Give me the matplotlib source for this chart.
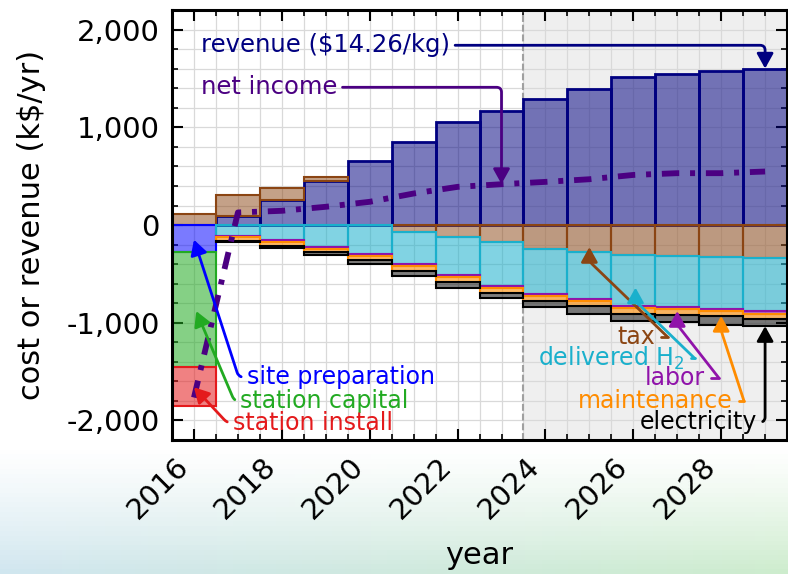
import numpy as np
import matplotlib.pyplot as plt
from matplotlib.colors import to_rgba
from matplotlib.ticker import MultipleLocator, FuncFormatter

plt.rcParams['lines.scale_dashes'] = False

years = np.arange(2016, 2030)
revenue = [0, 89, 255, 452, 656, 850, 1058, 1166, 1293, 1395, 1513, 1541, 1574, 1602]
tax = [112, 217, 129, 35, 0, -75, -124, -177, -245, -279, -306, -320, -330, -340]
site_preparation = [-275, 0, 0, 0, 0, 0, 0, 0, 0, 0, 0, 0, 0, 0]
station_capital = [-1175, 0, 0, 0, 0, 0, 0, 0, 0, 0, 0, 0, 0, 0]
station_install = [-400, 0, 0, 0, 0, 0, 0, 0, 0, 0, 0, 0, 0, 0]
delivered_h2 = [0, -109, -153, -228, -295, -323, -386, -442, -459, -476, -520, -520, -527, -544]
labor = [0, -17, -17, -17, -20, -24, -24, -25, -25, -25, -24, -24, -24, -24]
maintenance = [0, -34, -41, -34, -45, -50, -51, -50, -50, -50, -58, -54, -51, -51]
electricity = [0, -17, -27, -27, -40, -52, -58, -55, -58, -78, -77, -75, -88, -75]
net_income = [-1765, 129, 146, 187, 238, 323, 391, 418, 442, 469, 513, 531, 531, 548]

fig = plt.figure(figsize=(7.88, 5.74), dpi=100)

# faint slide background at the bottom
bg = fig.add_axes([0, 0, 1, 1], zorder=-10)
bg.axis('off')
fy, fx = np.mgrid[0:1:120j, 0:1:240j]
left_col = np.array([0.70, 0.84, 0.90])
right_col = np.array([0.68, 0.88, 0.68])
rgba = np.zeros((120, 240, 4))
rgba[..., :3] = left_col * (1 - fx[..., None]) + right_col * fx[..., None]
rgba[..., 3] = np.clip((0.22 - fy) / 0.22, 0, 1) ** 1.2 * 0.6
bg.imshow(rgba, extent=[0, 1, 0, 1], origin='lower', aspect='auto')
bg.set_xlim(0, 1)
bg.set_ylim(0, 1)

ax = fig.add_axes([0.2183, 0.2334, 0.7805, 0.749])
ax.set_facecolor('white')
ax.set_axisbelow(True)


def bars(vals, bottom, color, alpha=0.55, lw=1.5):
    vals = np.asarray(vals, float)
    m = vals != 0
    ax.bar(years[m], vals[m], bottom=np.asarray(bottom, float)[m], width=1.0,
           facecolor=to_rgba(color, alpha), edgecolor=color, linewidth=lw, zorder=2)


tax_arr = np.array(tax, float)
rev_arr = np.array(revenue, float)

bars(revenue, np.zeros(len(years)), 'navy', alpha=0.52, lw=2)
bars(tax, np.where(tax_arr > 0, rev_arr, 0), 'saddlebrown', alpha=0.5)

base = np.minimum(tax_arr, 0)
for vals, col, a in [(site_preparation, 'blue', 0.52),
                     (station_capital, '#22aa22', 0.55),
                     (station_install, '#e41a1c', 0.55),
                     (delivered_h2, '#1ab0cc', 0.55),
                     (labor, '#9013aa', 0.6),
                     (maintenance, 'darkorange', 0.6),
                     (electricity, 'black', 0.5)]:
    bars(vals, base, col, alpha=a)
    base = base + np.array(vals, float)

ax.plot(years, net_income, color='indigo', lw=4.2, dashes=(12.5, 7.8, 3.6, 7.8),
        dash_capstyle='butt', zorder=5)

# projected region
ax.axvspan(2023.5, 2029.5, color='#efefef', zorder=0.2, lw=0)
ax.axvline(2023.5, color='#a0a0a0', lw=1.5, ls=(0, (5, 2)), zorder=0.6)

ax.set_xlim(2015.5, 2029.5)
ax.set_ylim(-2200, 2200)
ax.xaxis.set_major_locator(MultipleLocator(2))
ax.xaxis.set_minor_locator(MultipleLocator(0.5))
ax.yaxis.set_major_locator(MultipleLocator(1000))
ax.yaxis.set_minor_locator(MultipleLocator(200))
ax.yaxis.set_major_formatter(FuncFormatter(lambda v, p: f'{v:,.0f}'))
ax.xaxis.set_major_formatter(FuncFormatter(lambda v, p: f'{int(round(v))}'))
ax.grid(True, which='both', color='#d9d9d9', lw=0.9)
ax.tick_params(which='both', direction='in', top=True, right=True, labelsize=21, pad=9)
ax.tick_params(which='major', length=8, width=1.5)
ax.tick_params(which='minor', length=4, width=1.2)
plt.setp(ax.get_xticklabels(), rotation=45, ha='right')
for s in ax.spines.values():
    s.set_linewidth(2.2)

ax.set_ylabel('cost or revenue (k\\$/yr)', fontsize=22)
ax.yaxis.set_label_coords(-0.205, 0.5)
ax.set_xlabel('year', fontsize=22)
ax.xaxis.set_label_coords(0.5, -0.235)

HEAD = '-|>,head_length=0.45,head_width=0.25'


def note(text, xy, xytext, color, ha, angA, angB, size=17):
    relx = 0 if ha == 'left' else 1
    ax.annotate(text, xy=xy, xytext=xytext, color=color, ha=ha, va='center',
                fontsize=size, zorder=6,
                arrowprops=dict(arrowstyle=HEAD, color=color, lw=2, mutation_scale=20,
                                shrinkA=2, shrinkB=0, relpos=(relx, 0.5),
                                connectionstyle=f'angle,angleA={angA},angleB={angB},rad=5'))


def note_bent(text, xy, xytext, corner, color, ang, size=17):
    # text, short stub to the corner, then diagonal + vertical to the arrow tip
    ax.annotate(text, xy=corner, xytext=xytext, color=color, ha='right', va='center',
                fontsize=size, zorder=6,
                arrowprops=dict(arrowstyle='-', color=color, lw=2, shrinkA=2, shrinkB=0,
                                relpos=(1, 0.5),
                                connectionstyle='angle,angleA=0,angleB=90,rad=0'))
    ax.annotate('', xy=xy, xytext=corner, zorder=6,
                arrowprops=dict(arrowstyle=HEAD, color=color, lw=2, mutation_scale=20,
                                shrinkA=0, shrinkB=0,
                                connectionstyle=f'angle,angleA={ang},angleB=90,rad=4'))


note('revenue (\\$14.26/kg)', (2029, 1602), (2016.15, 1840), 'navy', 'left', 0, 90, 17.5)
note('net income', (2023, 420), (2016.15, 1410), 'indigo', 'left', 0, 90, 17.5)
note('site preparation', (2016, -150), (2017.2, -1556), 'blue', 'left', 0, 108)
note('station capital', (2016.05, -880), (2017.05, -1801), '#22aa22', 'left', 0, 113)
note('station install', (2016, -1660), (2016.88, -2026), '#e41a1c', 'left', 0, 133)
note_bent('tax', (2025, -225), (2026.5, -1145), (2026.78, -1145), 'saddlebrown', 136)
note_bent('delivered H$_2$', (2026.05, -640), (2027.18, -1365), (2027.4, -1365), '#1ab0cc', 136)
note_bent('labor', (2027, -880), (2027.64, -1566), (2027.95, -1566), '#9013aa', 128)
note_bent('maintenance', (2028, -930), (2028.27, -1801), (2028.52, -1801), 'darkorange', 108)
note('electricity', (2029, -1034), (2028.82, -2016), 'black', 'right', 0, 90)

fig.savefig('out.png', dpi=100)
